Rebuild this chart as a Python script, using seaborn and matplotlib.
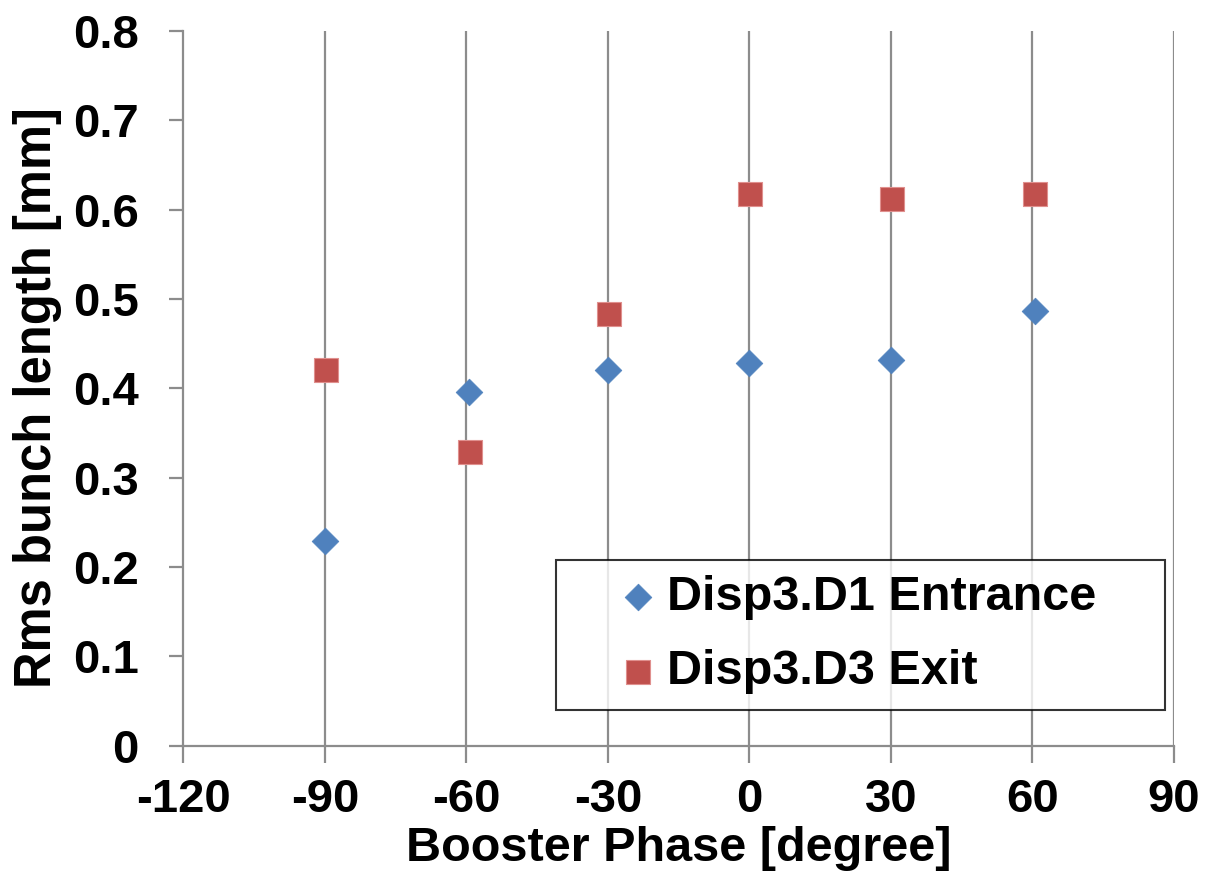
import matplotlib
matplotlib.use("Agg")
import matplotlib.pyplot as plt
import seaborn as sns
import pandas as pd

# Measured rms bunch length versus booster phase
phase_entrance = [-90, -59.5, -30, 0, 30, 60.5]
length_entrance = [0.229, 0.396, 0.420, 0.428, 0.432, 0.487]

phase_exit = [-89.8, -59.3, -29.7, 0.2, 30.2, 60.5]
length_exit = [0.420, 0.329, 0.483, 0.618, 0.612, 0.618]

label_entrance = "Disp3.D1 Entrance"
label_exit = "Disp3.D3 Exit"

x_ticks = [-120, -90, -60, -30, 0, 30, 60, 90]
y_ticks = [0, 0.1, 0.2, 0.3, 0.4, 0.5, 0.6, 0.7, 0.8]
y_tick_labels = ["0", "0.1", "0.2", "0.3", "0.4", "0.5", "0.6", "0.7", "0.8"]

sns.set_theme(style="white")
plt.rcParams["font.family"] = ["Liberation Sans", "DejaVu Sans"]
plt.rcParams["font.weight"] = "bold"
plt.rcParams["text.color"] = "black"
plt.rcParams["axes.labelcolor"] = "black"
plt.rcParams["xtick.labelcolor"] = "black"
plt.rcParams["ytick.labelcolor"] = "black"

fig = plt.figure(figsize=(12.05, 8.73), dpi=100)
ax = fig.add_axes([0.1521, 0.1458, 0.8222, 0.8187])

df_in = pd.DataFrame({"phase": phase_entrance, "length": length_entrance})
df_out = pd.DataFrame({"phase": phase_exit, "length": length_exit})

grid_color = "#8c8c8c"
for xv in x_ticks[1:]:
    ax.axvline(xv, color=grid_color, lw=1.6, zorder=0)

sns.scatterplot(data=df_in, x="phase", y="length", ax=ax, marker="D",
                s=185, color="#4F81BD", edgecolor="#4F81BD", linewidth=0.5,
                label=label_entrance, zorder=3)
sns.scatterplot(data=df_out, x="phase", y="length", ax=ax, marker="s",
                s=300, color="#C0504D", edgecolor="#E0908E", linewidth=0.8,
                label=label_exit, zorder=3)

ax.set_xlim(-120, 90)
ax.set_ylim(0, 0.8)
ax.set_xticks(x_ticks)
ax.set_xticklabels([str(v) for v in x_ticks])
ax.set_yticks(y_ticks)
ax.set_yticklabels(y_tick_labels)

for side in ["top", "right"]:
    ax.spines[side].set_visible(False)
for side in ["left", "bottom"]:
    ax.spines[side].set_color(grid_color)
    ax.spines[side].set_linewidth(1.6)

ax.tick_params(axis="x", direction="out", length=12, width=1.6,
               color=grid_color, labelsize=34, pad=11, bottom=True,
               labelcolor="black")
ax.tick_params(axis="y", direction="out", length=10, width=1.6,
               color=grid_color, labelsize=34, pad=22, left=True,
               labelcolor="black")
for lbl in ax.get_xticklabels() + ax.get_yticklabels():
    lbl.set_fontweight("bold")

ax.set_xlabel("Booster Phase [degree]", fontsize=35, fontweight="bold",
              color="black")
ax.set_ylabel("Rms bunch length [mm]", fontsize=36.5, fontweight="bold",
              color="black")
ax.xaxis.set_label_coords(0.5, -0.112)
ax.yaxis.set_label_coords(-0.1225, 0.487)

leg = ax.legend(loc="lower left", bbox_to_anchor=(0.376, 0.05, 0.615, 0.2126),
                mode="expand", fontsize=35, frameon=True, fancybox=False,
                borderpad=0.32, labelspacing=0.6, handletextpad=-0.8,
                handlelength=2.76, borderaxespad=0)
leg.get_frame().set_edgecolor("black")
leg.get_frame().set_linewidth(1.5)
for t in leg.get_texts():
    t.set_fontweight("bold")
    t.set_color("black")

fig.savefig("out.png", dpi=100)
